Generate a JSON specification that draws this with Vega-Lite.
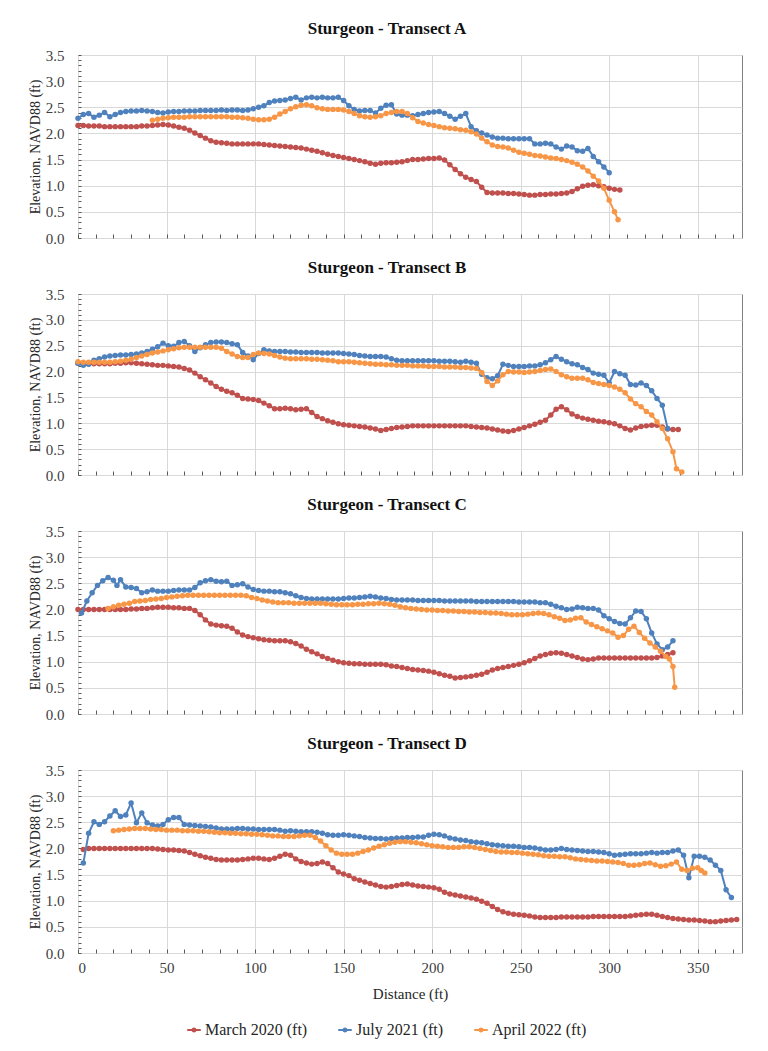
{
  "$schema": "https://vega.github.io/schema/vega-lite/v6.json",
  "background": "white",
  "padding": {"left": 27, "top": 19, "right": 20, "bottom": 5},
  "config": {
    "font": "Liberation Serif",
    "view": {"stroke": "#7f7f7f", "strokeWidth": 1},
    "title": {"font": "Liberation Serif", "fontSize": 17, "fontWeight": "bold", "color": "#111111", "offset": 10, "dx": -23},
    "axis": {"labelFont": "Liberation Serif", "titleFont": "Liberation Serif", "labelFontSize": 15, "titleFontSize": 14, "titleFontWeight": "normal", "labelColor": "#404040", "titleColor": "#262626", "domain": false, "tickColor": "#595959", "gridColor": "#d9d9d9"},
    "axisX": {"labelFont": "Liberation Serif"},
    "axisY": {"labelFont": "Liberation Serif"},
    "legend": {"labelFont": "Liberation Serif", "labelFontSize": 16, "labelColor": "#262626"},
    "concat": {"spacing": 11}
  },
  "datasets": {
    "AM": [{"x":0,"y":2.15},{"x":3,"y":2.15},{"x":6,"y":2.14},{"x":9,"y":2.14},{"x":12,"y":2.14},{"x":15,"y":2.13},{"x":18,"y":2.13},{"x":21,"y":2.13},{"x":24,"y":2.13},{"x":27,"y":2.13},{"x":30,"y":2.13},{"x":33,"y":2.13},{"x":36,"y":2.14},{"x":39,"y":2.14},{"x":42,"y":2.15},{"x":45,"y":2.16},{"x":48,"y":2.17},{"x":51,"y":2.16},{"x":54,"y":2.14},{"x":57,"y":2.12},{"x":60,"y":2.10},{"x":63,"y":2.06},{"x":66,"y":2.01},{"x":69,"y":1.96},{"x":72,"y":1.91},{"x":75,"y":1.86},{"x":78,"y":1.83},{"x":81,"y":1.82},{"x":84,"y":1.81},{"x":87,"y":1.80},{"x":90,"y":1.80},{"x":93,"y":1.80},{"x":96,"y":1.80},{"x":99,"y":1.80},{"x":102,"y":1.80},{"x":105,"y":1.79},{"x":108,"y":1.78},{"x":111,"y":1.77},{"x":114,"y":1.76},{"x":117,"y":1.75},{"x":120,"y":1.74},{"x":123,"y":1.73},{"x":126,"y":1.72},{"x":129,"y":1.70},{"x":132,"y":1.68},{"x":135,"y":1.66},{"x":138,"y":1.63},{"x":141,"y":1.60},{"x":144,"y":1.58},{"x":147,"y":1.56},{"x":150,"y":1.54},{"x":153,"y":1.52},{"x":156,"y":1.50},{"x":159,"y":1.48},{"x":162,"y":1.46},{"x":165,"y":1.43},{"x":168,"y":1.41},{"x":171,"y":1.43},{"x":174,"y":1.44},{"x":177,"y":1.44},{"x":180,"y":1.45},{"x":183,"y":1.46},{"x":186,"y":1.48},{"x":189,"y":1.50},{"x":192,"y":1.50},{"x":195,"y":1.51},{"x":198,"y":1.52},{"x":201,"y":1.52},{"x":204,"y":1.53},{"x":207,"y":1.49},{"x":210,"y":1.40},{"x":213,"y":1.31},{"x":216,"y":1.23},{"x":219,"y":1.16},{"x":222,"y":1.12},{"x":225,"y":1.08},{"x":228,"y":0.97},{"x":231,"y":0.87},{"x":234,"y":0.86},{"x":237,"y":0.86},{"x":240,"y":0.86},{"x":243,"y":0.85},{"x":246,"y":0.85},{"x":249,"y":0.84},{"x":252,"y":0.83},{"x":255,"y":0.82},{"x":258,"y":0.82},{"x":261,"y":0.83},{"x":264,"y":0.83},{"x":267,"y":0.84},{"x":270,"y":0.84},{"x":273,"y":0.85},{"x":276,"y":0.86},{"x":279,"y":0.89},{"x":282,"y":0.94},{"x":285,"y":0.99},{"x":288,"y":1.01},{"x":291,"y":1.02},{"x":294,"y":1.00},{"x":297,"y":0.98},{"x":300,"y":0.95},{"x":303,"y":0.93},{"x":306,"y":0.92}],
    "AJ": [{"x":0,"y":2.29},{"x":3,"y":2.36},{"x":6,"y":2.38},{"x":9,"y":2.31},{"x":12,"y":2.35},{"x":15,"y":2.40},{"x":18,"y":2.32},{"x":21,"y":2.36},{"x":24,"y":2.40},{"x":27,"y":2.42},{"x":30,"y":2.43},{"x":33,"y":2.43},{"x":36,"y":2.44},{"x":39,"y":2.43},{"x":42,"y":2.42},{"x":45,"y":2.40},{"x":48,"y":2.39},{"x":51,"y":2.41},{"x":54,"y":2.42},{"x":57,"y":2.42},{"x":60,"y":2.43},{"x":63,"y":2.43},{"x":66,"y":2.43},{"x":69,"y":2.44},{"x":72,"y":2.44},{"x":75,"y":2.44},{"x":78,"y":2.44},{"x":81,"y":2.45},{"x":84,"y":2.44},{"x":87,"y":2.45},{"x":90,"y":2.45},{"x":93,"y":2.44},{"x":96,"y":2.45},{"x":99,"y":2.47},{"x":102,"y":2.50},{"x":105,"y":2.53},{"x":108,"y":2.59},{"x":111,"y":2.62},{"x":114,"y":2.63},{"x":117,"y":2.64},{"x":120,"y":2.67},{"x":123,"y":2.69},{"x":126,"y":2.64},{"x":129,"y":2.68},{"x":132,"y":2.69},{"x":135,"y":2.68},{"x":138,"y":2.69},{"x":141,"y":2.68},{"x":144,"y":2.68},{"x":147,"y":2.69},{"x":150,"y":2.63},{"x":153,"y":2.53},{"x":156,"y":2.46},{"x":159,"y":2.43},{"x":162,"y":2.44},{"x":165,"y":2.44},{"x":168,"y":2.39},{"x":171,"y":2.48},{"x":174,"y":2.54},{"x":177,"y":2.55},{"x":180,"y":2.37},{"x":183,"y":2.35},{"x":186,"y":2.35},{"x":189,"y":2.34},{"x":192,"y":2.36},{"x":195,"y":2.38},{"x":198,"y":2.40},{"x":201,"y":2.41},{"x":204,"y":2.42},{"x":207,"y":2.38},{"x":210,"y":2.33},{"x":213,"y":2.27},{"x":216,"y":2.33},{"x":219,"y":2.38},{"x":222,"y":2.13},{"x":225,"y":2.05},{"x":228,"y":2.01},{"x":231,"y":1.97},{"x":234,"y":1.93},{"x":237,"y":1.91},{"x":240,"y":1.91},{"x":243,"y":1.90},{"x":246,"y":1.90},{"x":249,"y":1.90},{"x":252,"y":1.90},{"x":255,"y":1.90},{"x":258,"y":1.80},{"x":261,"y":1.80},{"x":264,"y":1.81},{"x":267,"y":1.80},{"x":270,"y":1.74},{"x":273,"y":1.70},{"x":276,"y":1.76},{"x":279,"y":1.74},{"x":282,"y":1.67},{"x":285,"y":1.66},{"x":288,"y":1.71},{"x":291,"y":1.56},{"x":294,"y":1.46},{"x":297,"y":1.36},{"x":300,"y":1.25}],
    "AA": [{"x":42,"y":2.25},{"x":45,"y":2.27},{"x":48,"y":2.29},{"x":51,"y":2.30},{"x":54,"y":2.31},{"x":57,"y":2.31},{"x":60,"y":2.31},{"x":63,"y":2.32},{"x":66,"y":2.32},{"x":69,"y":2.32},{"x":72,"y":2.32},{"x":75,"y":2.32},{"x":78,"y":2.32},{"x":81,"y":2.32},{"x":84,"y":2.32},{"x":87,"y":2.31},{"x":90,"y":2.31},{"x":93,"y":2.30},{"x":96,"y":2.29},{"x":99,"y":2.27},{"x":102,"y":2.26},{"x":105,"y":2.26},{"x":108,"y":2.27},{"x":111,"y":2.31},{"x":114,"y":2.37},{"x":117,"y":2.42},{"x":120,"y":2.47},{"x":123,"y":2.51},{"x":126,"y":2.54},{"x":129,"y":2.55},{"x":132,"y":2.53},{"x":135,"y":2.49},{"x":138,"y":2.47},{"x":141,"y":2.46},{"x":144,"y":2.46},{"x":147,"y":2.46},{"x":150,"y":2.45},{"x":153,"y":2.42},{"x":156,"y":2.38},{"x":159,"y":2.34},{"x":162,"y":2.32},{"x":165,"y":2.31},{"x":168,"y":2.32},{"x":171,"y":2.34},{"x":174,"y":2.38},{"x":177,"y":2.40},{"x":180,"y":2.42},{"x":183,"y":2.42},{"x":186,"y":2.38},{"x":189,"y":2.30},{"x":192,"y":2.23},{"x":195,"y":2.20},{"x":198,"y":2.17},{"x":201,"y":2.15},{"x":204,"y":2.13},{"x":207,"y":2.11},{"x":210,"y":2.10},{"x":213,"y":2.09},{"x":216,"y":2.07},{"x":219,"y":2.06},{"x":222,"y":2.03},{"x":225,"y":1.99},{"x":228,"y":1.91},{"x":231,"y":1.84},{"x":234,"y":1.78},{"x":237,"y":1.75},{"x":240,"y":1.74},{"x":243,"y":1.72},{"x":246,"y":1.68},{"x":249,"y":1.64},{"x":252,"y":1.62},{"x":255,"y":1.60},{"x":258,"y":1.58},{"x":261,"y":1.57},{"x":264,"y":1.55},{"x":267,"y":1.53},{"x":270,"y":1.52},{"x":273,"y":1.50},{"x":276,"y":1.48},{"x":279,"y":1.45},{"x":282,"y":1.41},{"x":285,"y":1.36},{"x":288,"y":1.28},{"x":291,"y":1.18},{"x":294,"y":1.09},{"x":297,"y":0.95},{"x":300,"y":0.72},{"x":303,"y":0.50},{"x":305,"y":0.35}],
    "BM": [{"x":0,"y":2.16},{"x":3,"y":2.15},{"x":6,"y":2.15},{"x":9,"y":2.15},{"x":12,"y":2.15},{"x":15,"y":2.15},{"x":18,"y":2.15},{"x":21,"y":2.16},{"x":24,"y":2.16},{"x":27,"y":2.17},{"x":30,"y":2.17},{"x":33,"y":2.16},{"x":36,"y":2.15},{"x":39,"y":2.14},{"x":42,"y":2.13},{"x":45,"y":2.12},{"x":48,"y":2.12},{"x":51,"y":2.11},{"x":54,"y":2.10},{"x":57,"y":2.09},{"x":60,"y":2.06},{"x":63,"y":2.03},{"x":66,"y":1.97},{"x":69,"y":1.90},{"x":72,"y":1.84},{"x":75,"y":1.78},{"x":78,"y":1.71},{"x":81,"y":1.66},{"x":84,"y":1.62},{"x":87,"y":1.59},{"x":90,"y":1.54},{"x":93,"y":1.48},{"x":96,"y":1.47},{"x":99,"y":1.46},{"x":102,"y":1.44},{"x":105,"y":1.39},{"x":108,"y":1.34},{"x":111,"y":1.28},{"x":114,"y":1.28},{"x":117,"y":1.29},{"x":120,"y":1.28},{"x":123,"y":1.26},{"x":126,"y":1.27},{"x":129,"y":1.28},{"x":132,"y":1.21},{"x":135,"y":1.13},{"x":138,"y":1.09},{"x":141,"y":1.05},{"x":144,"y":1.02},{"x":147,"y":0.99},{"x":150,"y":0.97},{"x":153,"y":0.96},{"x":156,"y":0.95},{"x":159,"y":0.94},{"x":162,"y":0.93},{"x":165,"y":0.91},{"x":168,"y":0.89},{"x":171,"y":0.86},{"x":174,"y":0.88},{"x":177,"y":0.90},{"x":180,"y":0.92},{"x":183,"y":0.93},{"x":186,"y":0.94},{"x":189,"y":0.95},{"x":192,"y":0.95},{"x":195,"y":0.95},{"x":198,"y":0.95},{"x":201,"y":0.95},{"x":204,"y":0.95},{"x":207,"y":0.95},{"x":210,"y":0.95},{"x":213,"y":0.95},{"x":216,"y":0.95},{"x":219,"y":0.95},{"x":222,"y":0.94},{"x":225,"y":0.93},{"x":228,"y":0.92},{"x":231,"y":0.91},{"x":234,"y":0.89},{"x":237,"y":0.87},{"x":240,"y":0.85},{"x":243,"y":0.84},{"x":246,"y":0.86},{"x":249,"y":0.89},{"x":252,"y":0.92},{"x":255,"y":0.95},{"x":258,"y":0.98},{"x":261,"y":1.02},{"x":264,"y":1.06},{"x":267,"y":1.16},{"x":270,"y":1.27},{"x":273,"y":1.32},{"x":276,"y":1.26},{"x":279,"y":1.18},{"x":282,"y":1.13},{"x":285,"y":1.10},{"x":288,"y":1.08},{"x":291,"y":1.06},{"x":294,"y":1.04},{"x":297,"y":1.03},{"x":300,"y":1.01},{"x":303,"y":0.99},{"x":306,"y":0.95},{"x":309,"y":0.90},{"x":312,"y":0.87},{"x":315,"y":0.91},{"x":318,"y":0.94},{"x":321,"y":0.95},{"x":324,"y":0.96},{"x":327,"y":0.96},{"x":330,"y":0.93},{"x":333,"y":0.89},{"x":336,"y":0.88},{"x":339,"y":0.88}],
    "BJ": [{"x":0,"y":2.16},{"x":3,"y":2.12},{"x":6,"y":2.14},{"x":9,"y":2.22},{"x":12,"y":2.25},{"x":15,"y":2.28},{"x":18,"y":2.30},{"x":21,"y":2.31},{"x":24,"y":2.32},{"x":27,"y":2.32},{"x":30,"y":2.33},{"x":33,"y":2.34},{"x":36,"y":2.36},{"x":39,"y":2.39},{"x":42,"y":2.43},{"x":45,"y":2.48},{"x":48,"y":2.55},{"x":51,"y":2.50},{"x":54,"y":2.49},{"x":57,"y":2.56},{"x":60,"y":2.58},{"x":63,"y":2.50},{"x":66,"y":2.39},{"x":69,"y":2.46},{"x":72,"y":2.52},{"x":75,"y":2.56},{"x":78,"y":2.57},{"x":81,"y":2.57},{"x":84,"y":2.56},{"x":87,"y":2.54},{"x":90,"y":2.52},{"x":93,"y":2.37},{"x":96,"y":2.30},{"x":99,"y":2.23},{"x":102,"y":2.35},{"x":105,"y":2.42},{"x":108,"y":2.40},{"x":111,"y":2.39},{"x":114,"y":2.39},{"x":117,"y":2.39},{"x":120,"y":2.38},{"x":123,"y":2.38},{"x":126,"y":2.37},{"x":129,"y":2.37},{"x":132,"y":2.37},{"x":135,"y":2.37},{"x":138,"y":2.36},{"x":141,"y":2.36},{"x":144,"y":2.36},{"x":147,"y":2.36},{"x":150,"y":2.35},{"x":153,"y":2.34},{"x":156,"y":2.33},{"x":159,"y":2.31},{"x":162,"y":2.30},{"x":165,"y":2.29},{"x":168,"y":2.29},{"x":171,"y":2.29},{"x":174,"y":2.28},{"x":177,"y":2.25},{"x":180,"y":2.22},{"x":183,"y":2.21},{"x":186,"y":2.21},{"x":189,"y":2.21},{"x":192,"y":2.21},{"x":195,"y":2.21},{"x":198,"y":2.21},{"x":201,"y":2.21},{"x":204,"y":2.20},{"x":207,"y":2.20},{"x":210,"y":2.20},{"x":213,"y":2.19},{"x":216,"y":2.18},{"x":219,"y":2.20},{"x":222,"y":2.18},{"x":225,"y":2.16},{"x":228,"y":1.95},{"x":231,"y":1.88},{"x":234,"y":1.86},{"x":237,"y":1.92},{"x":240,"y":2.14},{"x":243,"y":2.12},{"x":246,"y":2.10},{"x":249,"y":2.10},{"x":252,"y":2.10},{"x":255,"y":2.11},{"x":258,"y":2.11},{"x":261,"y":2.13},{"x":264,"y":2.17},{"x":267,"y":2.23},{"x":270,"y":2.29},{"x":273,"y":2.24},{"x":276,"y":2.19},{"x":279,"y":2.15},{"x":282,"y":2.13},{"x":285,"y":2.08},{"x":288,"y":2.04},{"x":291,"y":1.97},{"x":294,"y":1.95},{"x":297,"y":1.93},{"x":300,"y":1.78},{"x":303,"y":2.00},{"x":306,"y":1.96},{"x":309,"y":1.93},{"x":312,"y":1.75},{"x":315,"y":1.74},{"x":318,"y":1.78},{"x":321,"y":1.73},{"x":324,"y":1.63},{"x":327,"y":1.48},{"x":330,"y":1.35},{"x":333,"y":0.90}],
    "BA": [{"x":0,"y":2.19},{"x":3,"y":2.18},{"x":6,"y":2.18},{"x":9,"y":2.18},{"x":12,"y":2.18},{"x":15,"y":2.18},{"x":18,"y":2.18},{"x":21,"y":2.19},{"x":24,"y":2.20},{"x":27,"y":2.22},{"x":30,"y":2.24},{"x":33,"y":2.27},{"x":36,"y":2.30},{"x":39,"y":2.33},{"x":42,"y":2.36},{"x":45,"y":2.38},{"x":48,"y":2.40},{"x":51,"y":2.42},{"x":54,"y":2.44},{"x":57,"y":2.46},{"x":60,"y":2.47},{"x":63,"y":2.47},{"x":66,"y":2.47},{"x":69,"y":2.47},{"x":72,"y":2.47},{"x":75,"y":2.47},{"x":78,"y":2.47},{"x":81,"y":2.45},{"x":84,"y":2.39},{"x":87,"y":2.34},{"x":90,"y":2.29},{"x":93,"y":2.27},{"x":96,"y":2.27},{"x":99,"y":2.33},{"x":102,"y":2.36},{"x":105,"y":2.35},{"x":108,"y":2.34},{"x":111,"y":2.31},{"x":114,"y":2.28},{"x":117,"y":2.26},{"x":120,"y":2.25},{"x":123,"y":2.25},{"x":126,"y":2.25},{"x":129,"y":2.25},{"x":132,"y":2.24},{"x":135,"y":2.24},{"x":138,"y":2.23},{"x":141,"y":2.22},{"x":144,"y":2.21},{"x":147,"y":2.19},{"x":150,"y":2.19},{"x":153,"y":2.19},{"x":156,"y":2.18},{"x":159,"y":2.17},{"x":162,"y":2.16},{"x":165,"y":2.15},{"x":168,"y":2.14},{"x":171,"y":2.14},{"x":174,"y":2.13},{"x":177,"y":2.13},{"x":180,"y":2.12},{"x":183,"y":2.12},{"x":186,"y":2.12},{"x":189,"y":2.11},{"x":192,"y":2.11},{"x":195,"y":2.11},{"x":198,"y":2.10},{"x":201,"y":2.10},{"x":204,"y":2.10},{"x":207,"y":2.09},{"x":210,"y":2.09},{"x":213,"y":2.09},{"x":216,"y":2.08},{"x":219,"y":2.08},{"x":222,"y":2.07},{"x":225,"y":2.06},{"x":228,"y":1.98},{"x":231,"y":1.81},{"x":234,"y":1.73},{"x":237,"y":1.82},{"x":240,"y":1.94},{"x":243,"y":2.00},{"x":246,"y":1.99},{"x":249,"y":1.99},{"x":252,"y":1.98},{"x":255,"y":1.99},{"x":258,"y":2.00},{"x":261,"y":2.02},{"x":264,"y":2.04},{"x":267,"y":2.05},{"x":270,"y":2.00},{"x":273,"y":1.94},{"x":276,"y":1.90},{"x":279,"y":1.87},{"x":282,"y":1.87},{"x":285,"y":1.87},{"x":288,"y":1.84},{"x":291,"y":1.79},{"x":294,"y":1.77},{"x":297,"y":1.75},{"x":300,"y":1.73},{"x":303,"y":1.70},{"x":306,"y":1.66},{"x":309,"y":1.59},{"x":312,"y":1.47},{"x":315,"y":1.38},{"x":318,"y":1.32},{"x":321,"y":1.23},{"x":324,"y":1.16},{"x":327,"y":1.03},{"x":330,"y":0.90},{"x":333,"y":0.70},{"x":336,"y":0.45},{"x":338,"y":0.12},{"x":341,"y":0.06}],
    "CM": [{"x":0,"y":2.00},{"x":3,"y":2.00},{"x":6,"y":2.00},{"x":9,"y":2.00},{"x":12,"y":2.00},{"x":15,"y":2.00},{"x":18,"y":2.00},{"x":21,"y":2.00},{"x":24,"y":2.00},{"x":27,"y":2.00},{"x":30,"y":2.01},{"x":33,"y":2.01},{"x":36,"y":2.02},{"x":39,"y":2.02},{"x":42,"y":2.03},{"x":45,"y":2.04},{"x":48,"y":2.04},{"x":51,"y":2.04},{"x":54,"y":2.03},{"x":57,"y":2.03},{"x":60,"y":2.02},{"x":63,"y":2.02},{"x":66,"y":1.98},{"x":69,"y":1.90},{"x":72,"y":1.80},{"x":75,"y":1.72},{"x":78,"y":1.70},{"x":81,"y":1.69},{"x":84,"y":1.68},{"x":87,"y":1.64},{"x":90,"y":1.57},{"x":93,"y":1.51},{"x":96,"y":1.48},{"x":99,"y":1.46},{"x":102,"y":1.44},{"x":105,"y":1.42},{"x":108,"y":1.41},{"x":111,"y":1.40},{"x":114,"y":1.40},{"x":117,"y":1.40},{"x":120,"y":1.38},{"x":123,"y":1.35},{"x":126,"y":1.30},{"x":129,"y":1.24},{"x":132,"y":1.19},{"x":135,"y":1.15},{"x":138,"y":1.10},{"x":141,"y":1.06},{"x":144,"y":1.03},{"x":147,"y":1.00},{"x":150,"y":0.98},{"x":153,"y":0.97},{"x":156,"y":0.96},{"x":159,"y":0.96},{"x":162,"y":0.95},{"x":165,"y":0.95},{"x":168,"y":0.95},{"x":171,"y":0.95},{"x":174,"y":0.94},{"x":177,"y":0.92},{"x":180,"y":0.91},{"x":183,"y":0.89},{"x":186,"y":0.87},{"x":189,"y":0.85},{"x":192,"y":0.84},{"x":195,"y":0.83},{"x":198,"y":0.82},{"x":201,"y":0.80},{"x":204,"y":0.77},{"x":207,"y":0.74},{"x":210,"y":0.72},{"x":213,"y":0.69},{"x":216,"y":0.70},{"x":219,"y":0.71},{"x":222,"y":0.72},{"x":225,"y":0.74},{"x":228,"y":0.76},{"x":231,"y":0.80},{"x":234,"y":0.84},{"x":237,"y":0.87},{"x":240,"y":0.89},{"x":243,"y":0.91},{"x":246,"y":0.93},{"x":249,"y":0.95},{"x":252,"y":0.98},{"x":255,"y":1.02},{"x":258,"y":1.06},{"x":261,"y":1.11},{"x":264,"y":1.14},{"x":267,"y":1.16},{"x":270,"y":1.17},{"x":273,"y":1.16},{"x":276,"y":1.14},{"x":279,"y":1.11},{"x":282,"y":1.08},{"x":285,"y":1.05},{"x":288,"y":1.04},{"x":291,"y":1.05},{"x":294,"y":1.07},{"x":297,"y":1.07},{"x":300,"y":1.07},{"x":303,"y":1.07},{"x":306,"y":1.07},{"x":309,"y":1.07},{"x":312,"y":1.07},{"x":315,"y":1.07},{"x":318,"y":1.07},{"x":321,"y":1.07},{"x":324,"y":1.07},{"x":327,"y":1.08},{"x":330,"y":1.11},{"x":333,"y":1.14},{"x":336,"y":1.17}],
    "CJ": [{"x":2,"y":1.93},{"x":5,"y":2.16},{"x":8,"y":2.32},{"x":11,"y":2.46},{"x":14,"y":2.55},{"x":17,"y":2.61},{"x":20,"y":2.56},{"x":22,"y":2.46},{"x":24,"y":2.57},{"x":27,"y":2.43},{"x":30,"y":2.42},{"x":33,"y":2.40},{"x":36,"y":2.32},{"x":39,"y":2.34},{"x":42,"y":2.37},{"x":45,"y":2.35},{"x":48,"y":2.35},{"x":51,"y":2.35},{"x":54,"y":2.36},{"x":57,"y":2.37},{"x":60,"y":2.37},{"x":63,"y":2.37},{"x":66,"y":2.42},{"x":69,"y":2.51},{"x":72,"y":2.55},{"x":75,"y":2.57},{"x":78,"y":2.54},{"x":81,"y":2.53},{"x":84,"y":2.54},{"x":87,"y":2.46},{"x":90,"y":2.47},{"x":93,"y":2.49},{"x":96,"y":2.43},{"x":99,"y":2.38},{"x":102,"y":2.36},{"x":105,"y":2.35},{"x":108,"y":2.35},{"x":111,"y":2.34},{"x":114,"y":2.34},{"x":117,"y":2.32},{"x":120,"y":2.30},{"x":123,"y":2.26},{"x":126,"y":2.23},{"x":129,"y":2.21},{"x":132,"y":2.20},{"x":135,"y":2.20},{"x":138,"y":2.20},{"x":141,"y":2.20},{"x":144,"y":2.20},{"x":147,"y":2.20},{"x":150,"y":2.21},{"x":153,"y":2.22},{"x":156,"y":2.22},{"x":159,"y":2.23},{"x":162,"y":2.24},{"x":165,"y":2.25},{"x":168,"y":2.24},{"x":171,"y":2.22},{"x":174,"y":2.21},{"x":177,"y":2.19},{"x":180,"y":2.18},{"x":183,"y":2.18},{"x":186,"y":2.18},{"x":189,"y":2.18},{"x":192,"y":2.17},{"x":195,"y":2.17},{"x":198,"y":2.17},{"x":201,"y":2.17},{"x":204,"y":2.17},{"x":207,"y":2.16},{"x":210,"y":2.16},{"x":213,"y":2.16},{"x":216,"y":2.16},{"x":219,"y":2.16},{"x":222,"y":2.16},{"x":225,"y":2.15},{"x":228,"y":2.15},{"x":231,"y":2.15},{"x":234,"y":2.15},{"x":237,"y":2.15},{"x":240,"y":2.15},{"x":243,"y":2.15},{"x":246,"y":2.15},{"x":249,"y":2.14},{"x":252,"y":2.14},{"x":255,"y":2.14},{"x":258,"y":2.14},{"x":261,"y":2.13},{"x":264,"y":2.13},{"x":267,"y":2.10},{"x":270,"y":2.06},{"x":273,"y":2.03},{"x":276,"y":2.00},{"x":279,"y":2.01},{"x":282,"y":2.04},{"x":285,"y":2.03},{"x":288,"y":2.02},{"x":291,"y":2.02},{"x":294,"y":1.99},{"x":297,"y":1.88},{"x":300,"y":1.82},{"x":303,"y":1.77},{"x":306,"y":1.73},{"x":309,"y":1.72},{"x":312,"y":1.84},{"x":315,"y":1.97},{"x":318,"y":1.96},{"x":321,"y":1.82},{"x":324,"y":1.55},{"x":327,"y":1.34},{"x":330,"y":1.23},{"x":333,"y":1.28},{"x":336,"y":1.40}],
    "CA": [{"x":17,"y":2.02},{"x":20,"y":2.05},{"x":23,"y":2.08},{"x":26,"y":2.10},{"x":29,"y":2.12},{"x":32,"y":2.15},{"x":35,"y":2.16},{"x":38,"y":2.17},{"x":41,"y":2.19},{"x":44,"y":2.20},{"x":47,"y":2.21},{"x":50,"y":2.23},{"x":53,"y":2.24},{"x":56,"y":2.25},{"x":59,"y":2.26},{"x":62,"y":2.27},{"x":65,"y":2.27},{"x":68,"y":2.27},{"x":71,"y":2.27},{"x":74,"y":2.27},{"x":77,"y":2.27},{"x":80,"y":2.27},{"x":83,"y":2.27},{"x":86,"y":2.27},{"x":89,"y":2.27},{"x":92,"y":2.27},{"x":95,"y":2.26},{"x":98,"y":2.23},{"x":101,"y":2.21},{"x":104,"y":2.18},{"x":107,"y":2.16},{"x":110,"y":2.14},{"x":113,"y":2.13},{"x":116,"y":2.13},{"x":119,"y":2.13},{"x":122,"y":2.12},{"x":125,"y":2.12},{"x":128,"y":2.12},{"x":131,"y":2.12},{"x":134,"y":2.12},{"x":137,"y":2.12},{"x":140,"y":2.11},{"x":143,"y":2.10},{"x":146,"y":2.09},{"x":149,"y":2.09},{"x":152,"y":2.09},{"x":155,"y":2.09},{"x":158,"y":2.10},{"x":161,"y":2.10},{"x":164,"y":2.11},{"x":167,"y":2.11},{"x":170,"y":2.12},{"x":173,"y":2.11},{"x":176,"y":2.10},{"x":179,"y":2.08},{"x":182,"y":2.05},{"x":185,"y":2.03},{"x":188,"y":2.02},{"x":191,"y":2.01},{"x":194,"y":2.00},{"x":197,"y":1.99},{"x":200,"y":1.99},{"x":203,"y":1.98},{"x":206,"y":1.98},{"x":209,"y":1.97},{"x":212,"y":1.97},{"x":215,"y":1.96},{"x":218,"y":1.96},{"x":221,"y":1.95},{"x":224,"y":1.95},{"x":227,"y":1.94},{"x":230,"y":1.94},{"x":233,"y":1.93},{"x":236,"y":1.93},{"x":239,"y":1.92},{"x":242,"y":1.91},{"x":245,"y":1.90},{"x":248,"y":1.90},{"x":251,"y":1.90},{"x":254,"y":1.91},{"x":257,"y":1.92},{"x":260,"y":1.93},{"x":263,"y":1.92},{"x":266,"y":1.90},{"x":269,"y":1.86},{"x":272,"y":1.83},{"x":275,"y":1.79},{"x":278,"y":1.80},{"x":281,"y":1.83},{"x":284,"y":1.84},{"x":287,"y":1.76},{"x":290,"y":1.71},{"x":293,"y":1.67},{"x":296,"y":1.63},{"x":299,"y":1.59},{"x":302,"y":1.55},{"x":305,"y":1.47},{"x":308,"y":1.50},{"x":311,"y":1.62},{"x":314,"y":1.68},{"x":317,"y":1.56},{"x":320,"y":1.45},{"x":323,"y":1.36},{"x":326,"y":1.28},{"x":329,"y":1.20},{"x":332,"y":1.10},{"x":334,"y":1.05},{"x":336,"y":0.91},{"x":337,"y":0.51}],
    "DM": [{"x":3,"y":1.98},{"x":6,"y":2.00},{"x":9,"y":2.00},{"x":12,"y":2.00},{"x":15,"y":2.00},{"x":18,"y":2.00},{"x":21,"y":2.00},{"x":24,"y":2.00},{"x":27,"y":2.00},{"x":30,"y":2.00},{"x":33,"y":2.00},{"x":36,"y":2.00},{"x":39,"y":2.00},{"x":42,"y":2.00},{"x":45,"y":1.99},{"x":48,"y":1.98},{"x":51,"y":1.97},{"x":54,"y":1.97},{"x":57,"y":1.96},{"x":60,"y":1.95},{"x":63,"y":1.92},{"x":66,"y":1.89},{"x":69,"y":1.86},{"x":72,"y":1.83},{"x":75,"y":1.81},{"x":78,"y":1.79},{"x":81,"y":1.78},{"x":84,"y":1.78},{"x":87,"y":1.78},{"x":90,"y":1.78},{"x":93,"y":1.79},{"x":96,"y":1.80},{"x":99,"y":1.81},{"x":102,"y":1.81},{"x":105,"y":1.80},{"x":108,"y":1.79},{"x":111,"y":1.81},{"x":114,"y":1.85},{"x":117,"y":1.89},{"x":120,"y":1.87},{"x":123,"y":1.80},{"x":126,"y":1.75},{"x":129,"y":1.72},{"x":132,"y":1.70},{"x":135,"y":1.71},{"x":138,"y":1.74},{"x":141,"y":1.71},{"x":144,"y":1.63},{"x":147,"y":1.55},{"x":150,"y":1.51},{"x":153,"y":1.48},{"x":156,"y":1.42},{"x":159,"y":1.39},{"x":162,"y":1.36},{"x":165,"y":1.33},{"x":168,"y":1.30},{"x":171,"y":1.27},{"x":174,"y":1.26},{"x":177,"y":1.27},{"x":180,"y":1.29},{"x":183,"y":1.31},{"x":186,"y":1.32},{"x":189,"y":1.30},{"x":192,"y":1.28},{"x":195,"y":1.27},{"x":198,"y":1.26},{"x":201,"y":1.25},{"x":204,"y":1.22},{"x":207,"y":1.16},{"x":210,"y":1.13},{"x":213,"y":1.11},{"x":216,"y":1.09},{"x":219,"y":1.07},{"x":222,"y":1.05},{"x":225,"y":1.03},{"x":228,"y":0.99},{"x":231,"y":0.95},{"x":234,"y":0.89},{"x":237,"y":0.83},{"x":240,"y":0.79},{"x":243,"y":0.76},{"x":246,"y":0.74},{"x":249,"y":0.73},{"x":252,"y":0.72},{"x":255,"y":0.71},{"x":258,"y":0.69},{"x":261,"y":0.68},{"x":264,"y":0.68},{"x":267,"y":0.68},{"x":270,"y":0.68},{"x":273,"y":0.69},{"x":276,"y":0.69},{"x":279,"y":0.69},{"x":282,"y":0.69},{"x":285,"y":0.69},{"x":288,"y":0.69},{"x":291,"y":0.70},{"x":294,"y":0.70},{"x":297,"y":0.70},{"x":300,"y":0.70},{"x":303,"y":0.70},{"x":306,"y":0.70},{"x":309,"y":0.70},{"x":312,"y":0.71},{"x":315,"y":0.72},{"x":318,"y":0.73},{"x":321,"y":0.74},{"x":324,"y":0.74},{"x":327,"y":0.72},{"x":330,"y":0.70},{"x":333,"y":0.68},{"x":336,"y":0.66},{"x":339,"y":0.65},{"x":342,"y":0.64},{"x":345,"y":0.63},{"x":348,"y":0.63},{"x":351,"y":0.62},{"x":354,"y":0.61},{"x":357,"y":0.60},{"x":360,"y":0.60},{"x":363,"y":0.61},{"x":366,"y":0.62},{"x":369,"y":0.63},{"x":372,"y":0.64}],
    "DJ": [{"x":3,"y":1.72},{"x":6,"y":2.29},{"x":9,"y":2.51},{"x":12,"y":2.46},{"x":15,"y":2.51},{"x":18,"y":2.62},{"x":21,"y":2.72},{"x":24,"y":2.61},{"x":27,"y":2.64},{"x":30,"y":2.87},{"x":33,"y":2.49},{"x":36,"y":2.68},{"x":39,"y":2.49},{"x":42,"y":2.45},{"x":45,"y":2.43},{"x":48,"y":2.46},{"x":51,"y":2.55},{"x":54,"y":2.59},{"x":57,"y":2.59},{"x":60,"y":2.46},{"x":63,"y":2.45},{"x":66,"y":2.44},{"x":69,"y":2.43},{"x":72,"y":2.42},{"x":75,"y":2.41},{"x":78,"y":2.39},{"x":81,"y":2.37},{"x":84,"y":2.37},{"x":87,"y":2.37},{"x":90,"y":2.38},{"x":93,"y":2.38},{"x":96,"y":2.37},{"x":99,"y":2.37},{"x":102,"y":2.36},{"x":105,"y":2.36},{"x":108,"y":2.36},{"x":111,"y":2.36},{"x":114,"y":2.35},{"x":117,"y":2.33},{"x":120,"y":2.34},{"x":123,"y":2.33},{"x":126,"y":2.32},{"x":129,"y":2.32},{"x":132,"y":2.32},{"x":135,"y":2.31},{"x":138,"y":2.29},{"x":141,"y":2.26},{"x":144,"y":2.25},{"x":147,"y":2.25},{"x":150,"y":2.26},{"x":153,"y":2.25},{"x":156,"y":2.24},{"x":159,"y":2.23},{"x":162,"y":2.21},{"x":165,"y":2.20},{"x":168,"y":2.19},{"x":171,"y":2.19},{"x":174,"y":2.18},{"x":177,"y":2.19},{"x":180,"y":2.20},{"x":183,"y":2.20},{"x":186,"y":2.21},{"x":189,"y":2.21},{"x":192,"y":2.22},{"x":195,"y":2.22},{"x":198,"y":2.25},{"x":201,"y":2.27},{"x":204,"y":2.26},{"x":207,"y":2.24},{"x":210,"y":2.20},{"x":213,"y":2.18},{"x":216,"y":2.16},{"x":219,"y":2.15},{"x":222,"y":2.13},{"x":225,"y":2.12},{"x":228,"y":2.11},{"x":231,"y":2.09},{"x":234,"y":2.07},{"x":237,"y":2.06},{"x":240,"y":2.05},{"x":243,"y":2.04},{"x":246,"y":2.04},{"x":249,"y":2.03},{"x":252,"y":2.02},{"x":255,"y":2.02},{"x":258,"y":2.01},{"x":261,"y":1.99},{"x":264,"y":1.97},{"x":267,"y":1.97},{"x":270,"y":1.98},{"x":273,"y":2.00},{"x":276,"y":1.98},{"x":279,"y":1.97},{"x":282,"y":1.96},{"x":285,"y":1.95},{"x":288,"y":1.94},{"x":291,"y":1.94},{"x":294,"y":1.93},{"x":297,"y":1.92},{"x":300,"y":1.90},{"x":303,"y":1.87},{"x":306,"y":1.88},{"x":309,"y":1.89},{"x":312,"y":1.90},{"x":315,"y":1.90},{"x":318,"y":1.90},{"x":321,"y":1.91},{"x":324,"y":1.92},{"x":327,"y":1.91},{"x":330,"y":1.92},{"x":333,"y":1.92},{"x":336,"y":1.95},{"x":339,"y":1.97},{"x":342,"y":1.87},{"x":345,"y":1.44},{"x":348,"y":1.85},{"x":351,"y":1.85},{"x":354,"y":1.83},{"x":357,"y":1.78},{"x":360,"y":1.68},{"x":363,"y":1.58},{"x":366,"y":1.21},{"x":369,"y":1.06}],
    "DA": [{"x":20,"y":2.34},{"x":23,"y":2.35},{"x":26,"y":2.36},{"x":29,"y":2.37},{"x":32,"y":2.38},{"x":35,"y":2.38},{"x":38,"y":2.38},{"x":41,"y":2.37},{"x":44,"y":2.36},{"x":47,"y":2.36},{"x":50,"y":2.35},{"x":53,"y":2.35},{"x":56,"y":2.35},{"x":59,"y":2.34},{"x":62,"y":2.34},{"x":65,"y":2.34},{"x":68,"y":2.33},{"x":71,"y":2.33},{"x":74,"y":2.32},{"x":77,"y":2.31},{"x":80,"y":2.30},{"x":83,"y":2.30},{"x":86,"y":2.29},{"x":89,"y":2.29},{"x":92,"y":2.28},{"x":95,"y":2.28},{"x":98,"y":2.27},{"x":101,"y":2.27},{"x":104,"y":2.26},{"x":107,"y":2.25},{"x":110,"y":2.24},{"x":113,"y":2.24},{"x":116,"y":2.23},{"x":119,"y":2.23},{"x":122,"y":2.23},{"x":125,"y":2.24},{"x":128,"y":2.25},{"x":131,"y":2.25},{"x":134,"y":2.21},{"x":137,"y":2.14},{"x":140,"y":2.05},{"x":143,"y":1.97},{"x":146,"y":1.91},{"x":149,"y":1.89},{"x":152,"y":1.89},{"x":155,"y":1.89},{"x":158,"y":1.91},{"x":161,"y":1.94},{"x":164,"y":1.97},{"x":167,"y":2.01},{"x":170,"y":2.04},{"x":173,"y":2.07},{"x":176,"y":2.10},{"x":179,"y":2.12},{"x":182,"y":2.13},{"x":185,"y":2.13},{"x":188,"y":2.12},{"x":191,"y":2.11},{"x":194,"y":2.09},{"x":197,"y":2.07},{"x":200,"y":2.05},{"x":203,"y":2.04},{"x":206,"y":2.03},{"x":209,"y":2.02},{"x":212,"y":2.02},{"x":215,"y":2.02},{"x":218,"y":2.03},{"x":221,"y":2.03},{"x":224,"y":2.02},{"x":227,"y":2.00},{"x":230,"y":1.98},{"x":233,"y":1.96},{"x":236,"y":1.94},{"x":239,"y":1.93},{"x":242,"y":1.93},{"x":245,"y":1.92},{"x":248,"y":1.92},{"x":251,"y":1.91},{"x":254,"y":1.90},{"x":257,"y":1.89},{"x":260,"y":1.88},{"x":263,"y":1.86},{"x":266,"y":1.85},{"x":269,"y":1.85},{"x":272,"y":1.84},{"x":275,"y":1.84},{"x":278,"y":1.82},{"x":281,"y":1.80},{"x":284,"y":1.79},{"x":287,"y":1.78},{"x":290,"y":1.77},{"x":293,"y":1.76},{"x":296,"y":1.76},{"x":299,"y":1.75},{"x":302,"y":1.74},{"x":305,"y":1.73},{"x":308,"y":1.71},{"x":311,"y":1.68},{"x":314,"y":1.68},{"x":317,"y":1.69},{"x":320,"y":1.71},{"x":323,"y":1.72},{"x":326,"y":1.69},{"x":329,"y":1.66},{"x":332,"y":1.67},{"x":335,"y":1.70},{"x":338,"y":1.74},{"x":341,"y":1.60},{"x":344,"y":1.58},{"x":347,"y":1.62},{"x":350,"y":1.63},{"x":352,"y":1.58},{"x":354,"y":1.53}]
  },
  "vconcat": [
    {
      "title": "Sturgeon - Transect A",
      "width": 664, "height": 183,
      "encoding": {
        "x": {"field": "x", "type": "quantitative", "scale": {"domain": [0, 375], "nice": false}, "axis": {"title": null, "values": [0,10,20,30,40,50,60,70,80,90,100,110,120,130,140,150,160,170,180,190,200,210,220,230,240,250,260,270,280,290,300,310,320,330,340,350,360,370], "labels": false, "tickSize": -4, "gridOpacity": {"condition": {"test": "datum.value % 50 === 0", "value": 1}, "value": 0}}},
        "y": {"field": "y", "type": "quantitative", "scale": {"domain": [0, 3.5], "nice": false}, "axis": {"title": "Elevation, NAVD88 (ft)", "values": [0,0.1,0.2,0.3,0.4,0.5,0.6,0.7,0.8,0.9,1,1.1,1.2,1.3,1.4,1.5,1.6,1.7,1.8,1.9,2,2.1,2.2,2.3,2.4,2.5,2.6,2.7,2.8,2.9,3,3.1,3.2,3.3,3.4,3.5], "labelExpr": "abs(datum.value*2 - round(datum.value*2)) < 0.001 ? format(datum.value, '.1f') : ''", "labelOverlap": false, "tickSize": -3, "labelPadding": 17, "titlePadding": 3, "gridOpacity": {"condition": {"test": "abs(datum.value*2 - round(datum.value*2)) < 0.001", "value": 1}, "value": 0}}}
      },
      "layer": [
        {"data": {"name": "AM"}, "encoding": {"color": {"datum": "March 2020 (ft)", "type": "nominal", "scale": {"domain": ["March 2020 (ft)", "July 2021 (ft)", "April 2022 (ft)"], "range": ["#C0504D", "#4F81BD", "#F79646"]}, "legend": {"title": null, "orient": "none", "legendX": 108, "legendY": 967, "direction": "horizontal", "symbolType": "M-1.5,0L1.5,0M-0.35,0A0.35,0.35 0 1,1 0.35,0A0.35,0.35 0 1,1 -0.35,0Z", "symbolSize": 81, "symbolStrokeWidth": 2, "columnPadding": 26, "labelOffset": 3}}}, "layer": [{"mark": {"type": "line", "strokeWidth": 2}}, {"mark": {"type": "point", "filled": true, "size": 30, "opacity": 1}}]},
        {"data": {"name": "AJ"}, "encoding": {"color": {"datum": "July 2021 (ft)", "type": "nominal"}}, "layer": [{"mark": {"type": "line", "strokeWidth": 2}}, {"mark": {"type": "point", "filled": true, "size": 30, "opacity": 1}}]},
        {"data": {"name": "AA"}, "encoding": {"color": {"datum": "April 2022 (ft)", "type": "nominal"}}, "layer": [{"mark": {"type": "line", "strokeWidth": 2}}, {"mark": {"type": "point", "filled": true, "size": 30, "opacity": 1}}]}
      ]
    },
    {
      "title": "Sturgeon - Transect B",
      "width": 664, "height": 181,
      "encoding": {
        "x": {"field": "x", "type": "quantitative", "scale": {"domain": [0, 375], "nice": false}, "axis": {"title": null, "values": [0,10,20,30,40,50,60,70,80,90,100,110,120,130,140,150,160,170,180,190,200,210,220,230,240,250,260,270,280,290,300,310,320,330,340,350,360,370], "labels": false, "tickSize": -4, "gridOpacity": {"condition": {"test": "datum.value % 50 === 0", "value": 1}, "value": 0}}},
        "y": {"field": "y", "type": "quantitative", "scale": {"domain": [0, 3.5], "nice": false}, "axis": {"title": "Elevation, NAVD88 (ft)", "values": [0,0.1,0.2,0.3,0.4,0.5,0.6,0.7,0.8,0.9,1,1.1,1.2,1.3,1.4,1.5,1.6,1.7,1.8,1.9,2,2.1,2.2,2.3,2.4,2.5,2.6,2.7,2.8,2.9,3,3.1,3.2,3.3,3.4,3.5], "labelExpr": "abs(datum.value*2 - round(datum.value*2)) < 0.001 ? format(datum.value, '.1f') : ''", "labelOverlap": false, "tickSize": -3, "labelPadding": 17, "titlePadding": 3, "gridOpacity": {"condition": {"test": "abs(datum.value*2 - round(datum.value*2)) < 0.001", "value": 1}, "value": 0}}}
      },
      "layer": [
        {"data": {"name": "BM"}, "encoding": {"color": {"datum": "March 2020 (ft)", "type": "nominal"}}, "layer": [{"mark": {"type": "line", "strokeWidth": 2}}, {"mark": {"type": "point", "filled": true, "size": 30, "opacity": 1}}]},
        {"data": {"name": "BJ"}, "encoding": {"color": {"datum": "July 2021 (ft)", "type": "nominal"}}, "layer": [{"mark": {"type": "line", "strokeWidth": 2}}, {"mark": {"type": "point", "filled": true, "size": 30, "opacity": 1}}]},
        {"data": {"name": "BA"}, "encoding": {"color": {"datum": "April 2022 (ft)", "type": "nominal"}}, "layer": [{"mark": {"type": "line", "strokeWidth": 2}}, {"mark": {"type": "point", "filled": true, "size": 30, "opacity": 1}}]}
      ]
    },
    {
      "title": "Sturgeon - Transect C",
      "width": 664, "height": 183,
      "encoding": {
        "x": {"field": "x", "type": "quantitative", "scale": {"domain": [0, 375], "nice": false}, "axis": {"title": null, "values": [0,10,20,30,40,50,60,70,80,90,100,110,120,130,140,150,160,170,180,190,200,210,220,230,240,250,260,270,280,290,300,310,320,330,340,350,360,370], "labels": false, "tickSize": -4, "gridOpacity": {"condition": {"test": "datum.value % 50 === 0", "value": 1}, "value": 0}}},
        "y": {"field": "y", "type": "quantitative", "scale": {"domain": [0, 3.5], "nice": false}, "axis": {"title": "Elevation, NAVD88 (ft)", "values": [0,0.1,0.2,0.3,0.4,0.5,0.6,0.7,0.8,0.9,1,1.1,1.2,1.3,1.4,1.5,1.6,1.7,1.8,1.9,2,2.1,2.2,2.3,2.4,2.5,2.6,2.7,2.8,2.9,3,3.1,3.2,3.3,3.4,3.5], "labelExpr": "abs(datum.value*2 - round(datum.value*2)) < 0.001 ? format(datum.value, '.1f') : ''", "labelOverlap": false, "tickSize": -3, "labelPadding": 17, "titlePadding": 3, "gridOpacity": {"condition": {"test": "abs(datum.value*2 - round(datum.value*2)) < 0.001", "value": 1}, "value": 0}}}
      },
      "layer": [
        {"data": {"name": "CM"}, "encoding": {"color": {"datum": "March 2020 (ft)", "type": "nominal"}}, "layer": [{"mark": {"type": "line", "strokeWidth": 2}}, {"mark": {"type": "point", "filled": true, "size": 30, "opacity": 1}}]},
        {"data": {"name": "CJ"}, "encoding": {"color": {"datum": "July 2021 (ft)", "type": "nominal"}}, "layer": [{"mark": {"type": "line", "strokeWidth": 2}}, {"mark": {"type": "point", "filled": true, "size": 30, "opacity": 1}}]},
        {"data": {"name": "CA"}, "encoding": {"color": {"datum": "April 2022 (ft)", "type": "nominal"}}, "layer": [{"mark": {"type": "line", "strokeWidth": 2}}, {"mark": {"type": "point", "filled": true, "size": 30, "opacity": 1}}]}
      ]
    },
    {
      "title": "Sturgeon - Transect D",
      "width": 664, "height": 183,
      "encoding": {
        "x": {"field": "x", "type": "quantitative", "scale": {"domain": [0, 375], "nice": false}, "axis": {"title": "Distance (ft)", "titleFontSize": 15, "titlePadding": 11, "values": [0,10,20,30,40,50,60,70,80,90,100,110,120,130,140,150,160,170,180,190,200,210,220,230,240,250,260,270,280,290,300,310,320,330,340,350,360,370], "labelExpr": "datum.value % 50 === 0 ? datum.label : ''", "labelOverlap": false, "labelPadding": 11, "tickSize": -4, "gridOpacity": {"condition": {"test": "datum.value % 50 === 0", "value": 1}, "value": 0}}},
        "y": {"field": "y", "type": "quantitative", "scale": {"domain": [0, 3.5], "nice": false}, "axis": {"title": "Elevation, NAVD88 (ft)", "values": [0,0.1,0.2,0.3,0.4,0.5,0.6,0.7,0.8,0.9,1,1.1,1.2,1.3,1.4,1.5,1.6,1.7,1.8,1.9,2,2.1,2.2,2.3,2.4,2.5,2.6,2.7,2.8,2.9,3,3.1,3.2,3.3,3.4,3.5], "labelExpr": "abs(datum.value*2 - round(datum.value*2)) < 0.001 ? format(datum.value, '.1f') : ''", "labelOverlap": false, "tickSize": -3, "labelPadding": 17, "titlePadding": 3, "gridOpacity": {"condition": {"test": "abs(datum.value*2 - round(datum.value*2)) < 0.001", "value": 1}, "value": 0}}}
      },
      "layer": [
        {"data": {"name": "DM"}, "encoding": {"color": {"datum": "March 2020 (ft)", "type": "nominal"}}, "layer": [{"mark": {"type": "line", "strokeWidth": 2}}, {"mark": {"type": "point", "filled": true, "size": 30, "opacity": 1}}]},
        {"data": {"name": "DJ"}, "encoding": {"color": {"datum": "July 2021 (ft)", "type": "nominal"}}, "layer": [{"mark": {"type": "line", "strokeWidth": 2}}, {"mark": {"type": "point", "filled": true, "size": 30, "opacity": 1}}]},
        {"data": {"name": "DA"}, "encoding": {"color": {"datum": "April 2022 (ft)", "type": "nominal"}}, "layer": [{"mark": {"type": "line", "strokeWidth": 2}}, {"mark": {"type": "point", "filled": true, "size": 30, "opacity": 1}}]}
      ]
    }
  ]
}
